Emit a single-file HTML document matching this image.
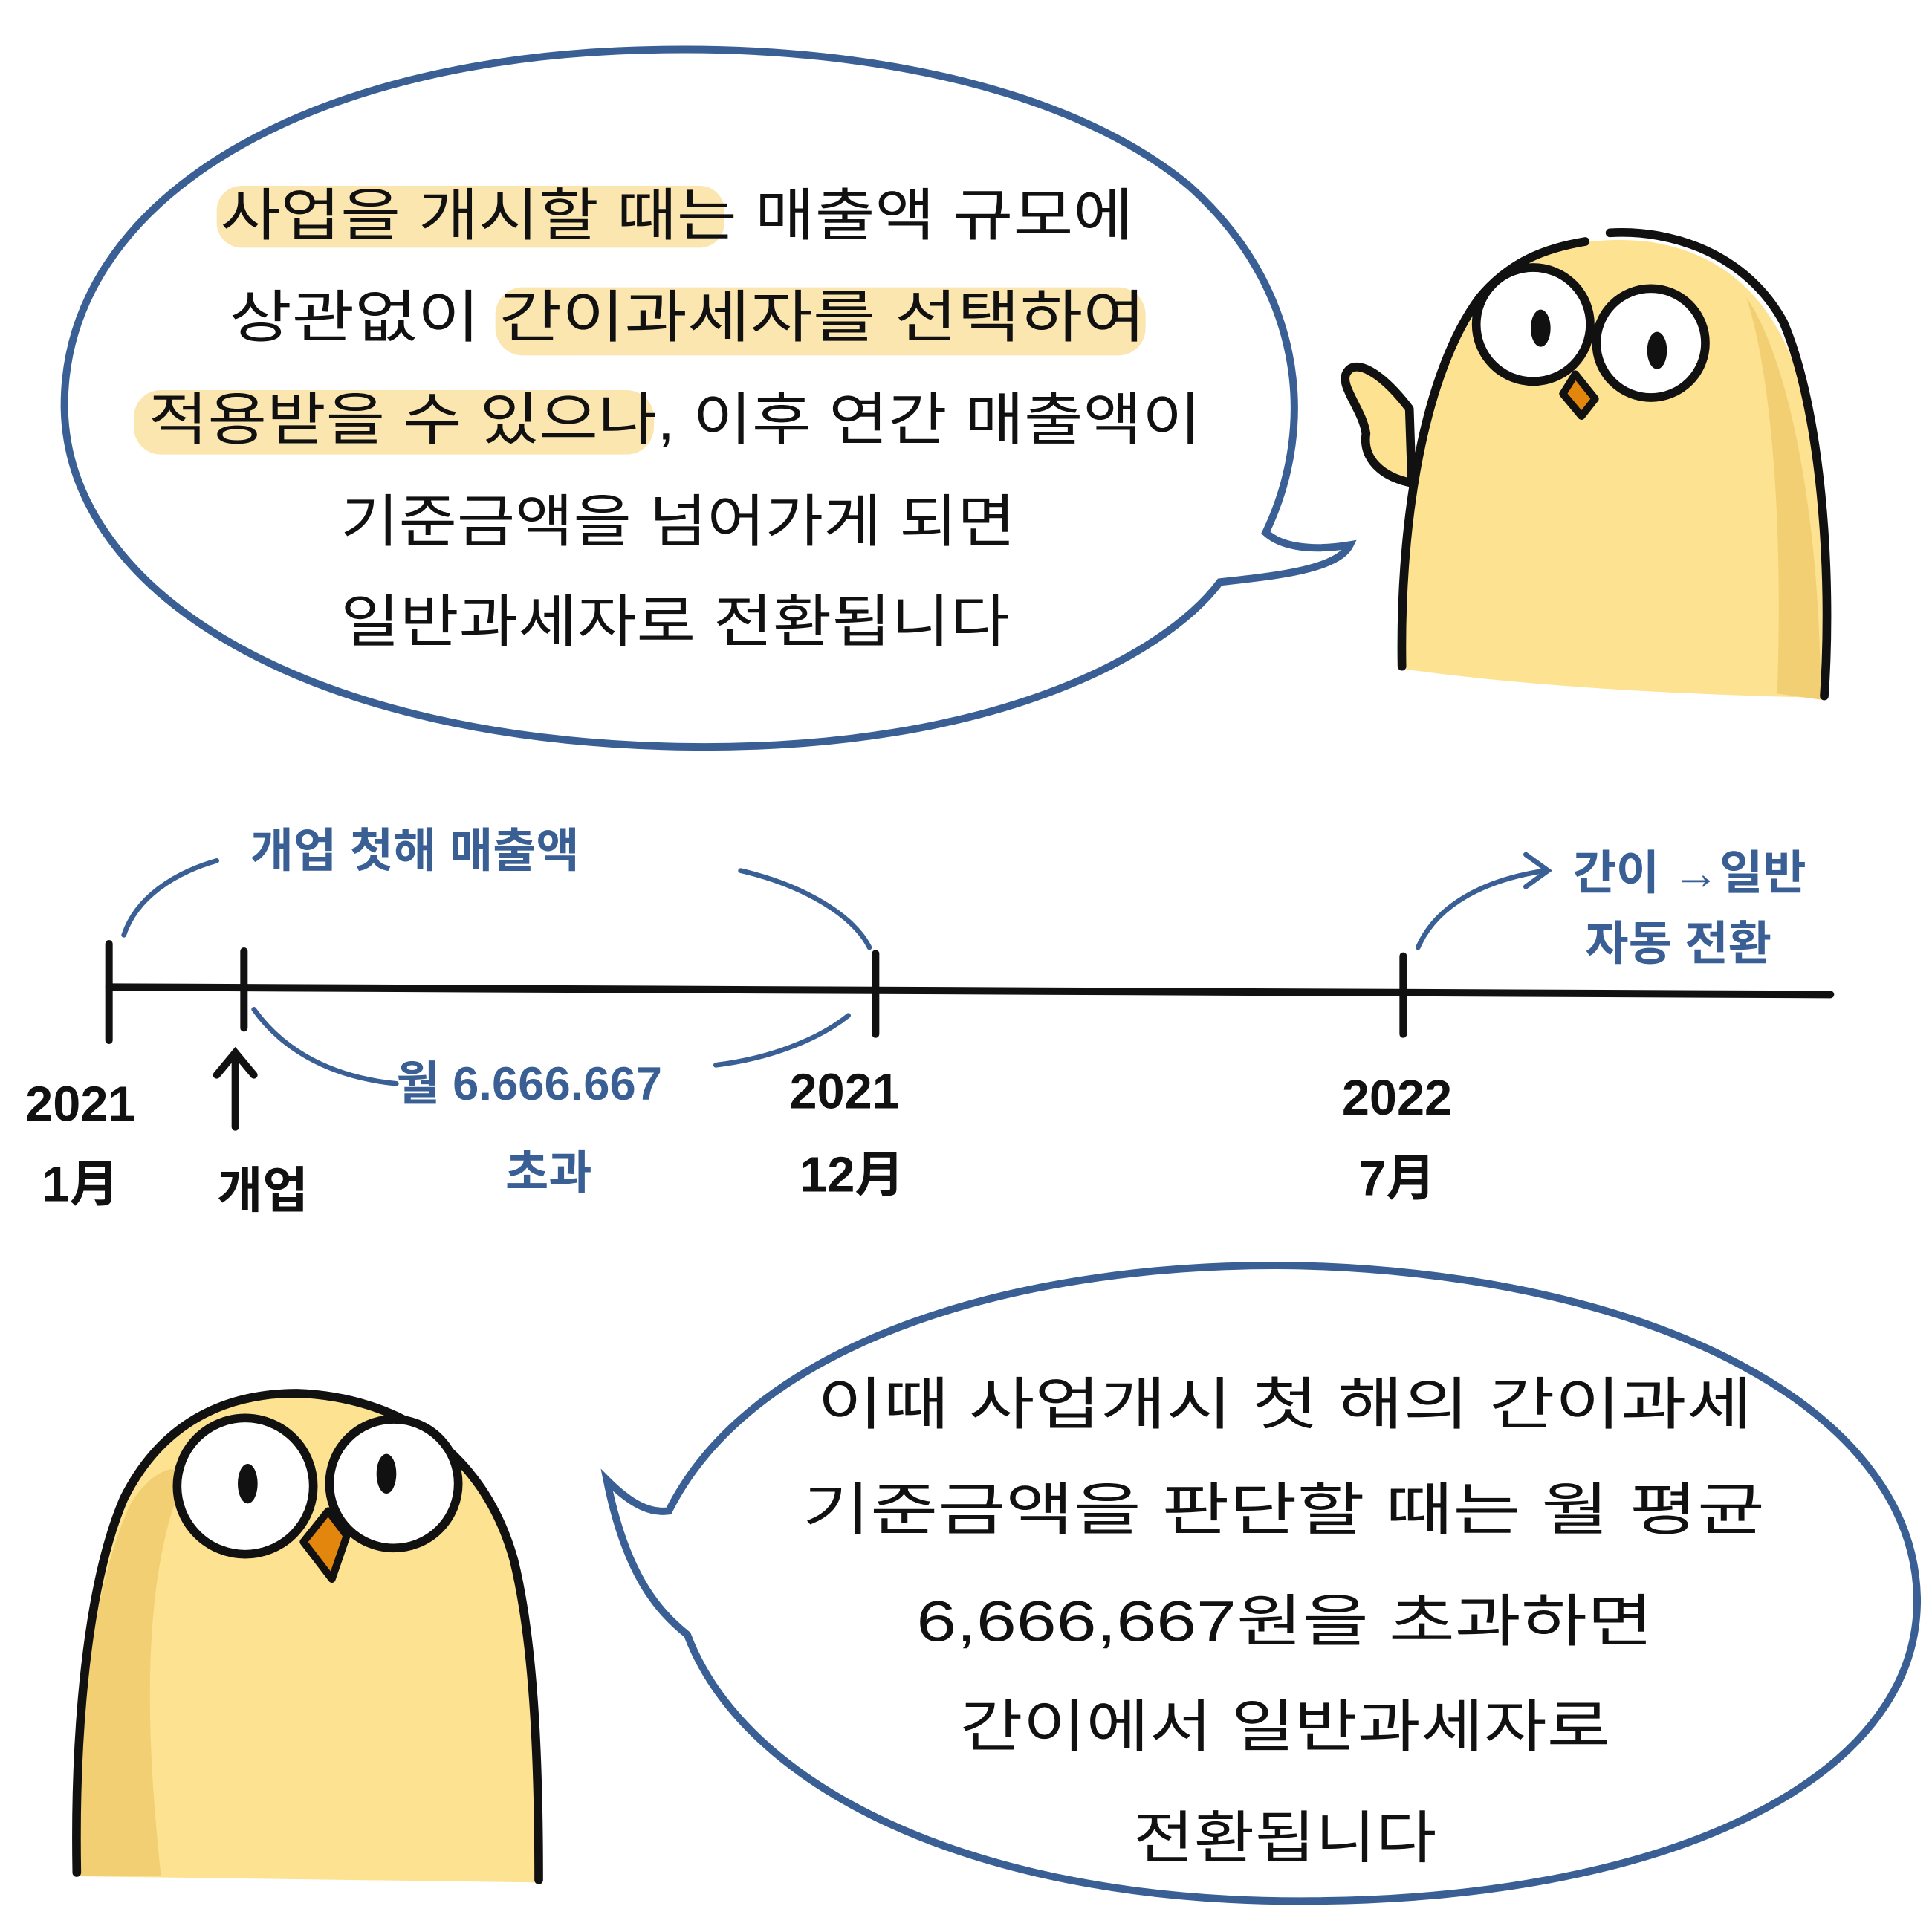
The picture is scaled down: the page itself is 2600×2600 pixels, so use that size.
<!DOCTYPE html>
<html><head><meta charset="utf-8"><style>
html,body{margin:0;padding:0;background:#fff;}
svg{display:block;}
text{font-family:"Liberation Sans","Noto Sans CJK KR",sans-serif;}
</style></head><body>
<svg width="2600" height="2600" viewBox="0 0 1560 1560" xmlns="http://www.w3.org/2000/svg">
<rect width="1560" height="1560" fill="#fff"/>
<path d="M1022,430 C1065,340 1050,230 960,150 C870,75 710,38 540,40 C250,42 50,160 52,330 C55,480 250,600 560,603 C800,605 940,530 985,470 C1030,465 1080,460 1090,440 C1060,445 1035,442 1022,430 Z" fill="#fff" stroke="#3a5f95" stroke-width="6"/>
<g fill="#fbe6b0">
<rect x="175" y="150" width="410" height="50" rx="20"/>
<rect x="400" y="232" width="525" height="55" rx="22"/>
<rect x="108" y="315" width="420" height="52" rx="22"/>
</g>
<g font-size="46" fill="#111">
<text x="178" y="190" textLength="737" lengthAdjust="spacingAndGlyphs">사업을 개시할 때는 매출액 규모에</text>
<text x="185" y="272" textLength="740" lengthAdjust="spacingAndGlyphs">상관없이 간이과세자를 선택하여</text>
<text x="120" y="355" textLength="850" lengthAdjust="spacingAndGlyphs">적용받을 수 있으나, 이후 연간 매출액이</text>
<text x="275" y="437" textLength="545" lengthAdjust="spacingAndGlyphs">기준금액을 넘어가게 되면</text>
<text x="275" y="518" textLength="540" lengthAdjust="spacingAndGlyphs">일반과세자로 전환됩니다</text>
</g>
<path d="M1138,330 C1115,300 1095,290 1088,300 C1080,310 1100,330 1103,350 C1100,370 1115,385 1140,390 Z" fill="#fde291" stroke="#111" stroke-width="7" stroke-linejoin="round"/>
<path d="M1132,540 C1130,420 1150,300 1195,240 C1230,200 1280,190 1330,195 C1400,205 1440,250 1460,330 C1475,400 1480,500 1475,565 L1455,563 C1350,560 1240,555 1132,540 Z" fill="#fde291"/>
<path d="M1410,240 C1445,290 1470,420 1470,565 L1435,560 C1440,420 1430,300 1410,240Z" fill="#f2cf72"/>
<path d="M1132,538 C1130,420 1150,300 1195,240 C1220,210 1250,200 1280,195 M1300,188 C1350,185 1410,205 1440,260 C1470,330 1480,460 1473,562" fill="none" stroke="#111" stroke-width="7" stroke-linecap="round"/>
<circle cx="1238" cy="262" r="46" fill="#fff" stroke="#111" stroke-width="7"/>
<circle cx="1333" cy="277" r="44" fill="#fff" stroke="#111" stroke-width="7"/>
<line x1="1284" y1="264" x2="1290" y2="266" stroke="#111" stroke-width="6"/>
<ellipse cx="1244" cy="265" rx="8" ry="15" fill="#111"/>
<ellipse cx="1338" cy="283" rx="8" ry="15" fill="#111"/>
<path d="M1262,318 L1272,302 L1288,322 L1277,336 Z" fill="#e2860d" stroke="#111" stroke-width="6" stroke-linejoin="round"/>
<g stroke="#111" stroke-width="6" stroke-linecap="round" fill="none">
<line x1="88" y1="797" x2="1478" y2="803"/>
<line x1="88" y1="762" x2="88" y2="840"/>
<line x1="197" y1="768" x2="197" y2="830"/>
<line x1="707" y1="770" x2="707" y2="835"/>
<line x1="1133" y1="772" x2="1133" y2="835"/>
<line x1="190" y1="910" x2="190" y2="850"/>
<path d="M175,868 L190,850 L205,868"/>
</g>
<g stroke="#3a5f95" stroke-width="4" fill="none" stroke-linecap="round">
<path d="M100,755 C110,725 140,705 175,695"/>
<path d="M598,703 C650,715 690,740 702,765"/>
<path d="M205,815 C230,850 270,870 320,875"/>
<path d="M578,860 C620,855 660,840 685,820"/>
<path d="M1145,765 C1160,730 1200,710 1248,703"/>
<path d="M1232,690 L1250,703 L1232,716"/>
</g>
<g font-size="38" font-weight="bold" fill="#3a5f95">
<text x="202" y="700">개업 첫해 매출액</text>
<text x="1270" y="718">간이 →일반</text>
<text x="1280" y="775">자동 전환</text>
<text x="320" y="888">월 6.666.667</text>
<text x="408" y="960">초과</text>
</g>
<g font-size="40" font-weight="bold" fill="#111" text-anchor="middle">
<text x="65" y="905">2021</text>
<text x="65" y="970">1月</text>
<text x="212" y="975">개업</text>
<text x="682" y="895">2021</text>
<text x="688" y="962">12月</text>
<text x="1128" y="900">2022</text>
<text x="1128" y="965">7月</text>
</g>
<path d="M540,1220 C610,1080 830,1018 1050,1022 C1340,1030 1545,1140 1548,1290 C1550,1440 1340,1535 1050,1535 C780,1535 600,1440 555,1320 C530,1300 505,1270 490,1195 C510,1215 525,1222 540,1220 Z" fill="#fff" stroke="#3a5f95" stroke-width="6"/>
<g font-size="46" fill="#111">
<text x="660" y="1150" textLength="755" lengthAdjust="spacingAndGlyphs">이때 사업개시 첫 해의 간이과세</text>
<text x="648" y="1235" textLength="777" lengthAdjust="spacingAndGlyphs">기준금액을 판단할 때는 월 평균</text>
<text x="740" y="1325" textLength="595" lengthAdjust="spacingAndGlyphs">6,666,667원을 초과하면</text>
<text x="775" y="1410" textLength="525" lengthAdjust="spacingAndGlyphs">간이에서 일반과세자로</text>
<text x="915" y="1500" textLength="245" lengthAdjust="spacingAndGlyphs">전환됩니다</text>
</g>
<path d="M62,1515 C60,1400 70,1280 100,1210 C130,1150 180,1125 240,1125 C320,1128 390,1170 415,1260 C432,1330 435,1430 435,1520 Z" fill="#fde291"/>
<path d="M62,1515 C60,1400 75,1280 105,1215 C120,1190 140,1180 150,1190 C110,1280 120,1420 130,1515Z" fill="#f2cf72"/>
<path d="M62,1512 C60,1400 70,1280 100,1210 C130,1150 180,1125 240,1125 C320,1128 390,1170 415,1260 C432,1330 435,1430 435,1518" fill="none" stroke="#111" stroke-width="7" stroke-linecap="round"/>
<circle cx="198" cy="1200" r="55" fill="#fff" stroke="#111" stroke-width="7"/>
<circle cx="318" cy="1198" r="52" fill="#fff" stroke="#111" stroke-width="7"/>
<ellipse cx="200" cy="1198" rx="8" ry="16" fill="#111"/>
<ellipse cx="312" cy="1190" rx="8" ry="16" fill="#111"/>
<path d="M245,1245 L265,1220 L280,1240 L268,1275 Z" fill="#e2860d" stroke="#111" stroke-width="6" stroke-linejoin="round"/>
</svg>
</body></html>
